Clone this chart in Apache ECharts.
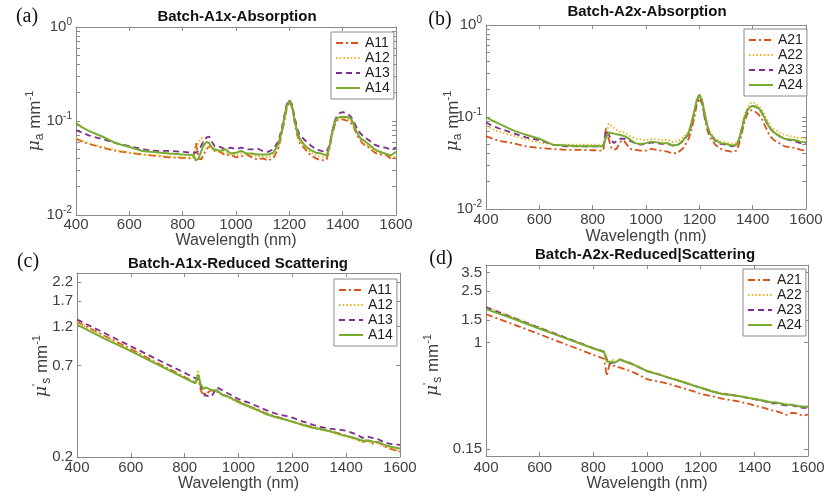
<!DOCTYPE html>
<html>
<head>
<meta charset="utf-8">
<script src="https://cdn.jsdelivr.net/npm/echarts@6/dist/echarts.min.js"></script>
<style>
  html, body { margin: 0; padding: 0; background: #fff; }
  #chart { width: 828px; height: 498px; }
</style>
</head>
<body>
<div id="chart"></div>
<script>
// ---- data ----
const wlAbs = [400,425,450,500,550,600,650,700,750,800,
  840,850,860,870,880,890,900,910,920,940,
  960,980,1000,1020,1040,1060,1080,1100,1120,1140,
  1160,1170,1180,1190,1200,1210,1220,1230,1240,1260,
  1280,1300,1320,1340,1350,1360,1370,1380,1390,1400,
  1410,1420,1430,1440,1450,1460,1470,1480,1500,1520,
  1540,1560,1580,1600];

const a11Abs = [0.065,0.060,0.057,0.052,0.048,0.046,0.044,0.0425,0.041,0.0405,
  0.040,0.058,0.040,0.039,0.045,0.050,0.054,0.052,0.048,0.047,
  0.043,0.044,0.041,0.042,0.044,0.041,0.039,0.040,0.038,0.040,
  0.052,0.070,0.095,0.135,0.160,0.140,0.095,0.070,0.058,0.050,
  0.043,0.040,0.038,0.039,0.050,0.070,0.090,0.102,0.104,0.104,
  0.102,0.100,0.096,0.088,0.075,0.066,0.060,0.056,0.052,0.046,
  0.044,0.044,0.040,0.040];
const a12Abs = [0.066,0.061,0.058,0.053,0.049,0.046,0.044,0.043,0.042,0.041,
  0.041,0.050,0.060,0.066,0.058,0.050,0.055,0.050,0.049,0.047,
  0.046,0.045,0.043,0.045,0.045,0.043,0.042,0.042,0.041,0.043,
  0.055,0.072,0.100,0.140,0.160,0.140,0.098,0.072,0.060,0.052,
  0.046,0.043,0.041,0.041,0.052,0.072,0.094,0.106,0.108,0.108,
  0.106,0.104,0.100,0.090,0.078,0.068,0.062,0.058,0.053,0.048,
  0.046,0.045,0.042,0.041];
const a13Abs = [0.080,0.075,0.070,0.064,0.058,0.054,0.050,0.048,0.048,0.047,
  0.046,0.046,0.048,0.055,0.062,0.067,0.068,0.060,0.054,0.053,
  0.050,0.052,0.050,0.052,0.050,0.050,0.051,0.048,0.047,0.050,
  0.062,0.080,0.110,0.150,0.168,0.150,0.110,0.082,0.070,0.062,
  0.055,0.050,0.048,0.047,0.055,0.075,0.100,0.115,0.122,0.124,
  0.122,0.118,0.112,0.100,0.088,0.078,0.072,0.068,0.062,0.056,
  0.053,0.052,0.050,0.052];
const a14Abs = [0.095,0.085,0.078,0.068,0.058,0.053,0.048,0.0465,0.045,0.044,
  0.0435,0.038,0.040,0.048,0.056,0.060,0.058,0.052,0.050,0.048,
  0.050,0.045,0.046,0.048,0.045,0.045,0.044,0.044,0.044,0.046,
  0.058,0.075,0.105,0.145,0.165,0.145,0.102,0.076,0.064,0.054,
  0.049,0.046,0.045,0.043,0.052,0.075,0.098,0.108,0.110,0.110,
  0.110,0.110,0.106,0.095,0.080,0.070,0.064,0.062,0.056,0.050,
  0.047,0.045,0.043,0.047];

const a21Abs = [0.062,0.058,0.055,0.052,0.048,0.046,0.045,0.044,0.044,0.0435,
  0.043,0.075,0.058,0.046,0.044,0.045,0.052,0.056,0.054,0.045,
  0.044,0.043,0.043,0.045,0.044,0.043,0.042,0.040,0.041,0.046,
  0.058,0.072,0.095,0.135,0.160,0.140,0.098,0.072,0.060,0.050,
  0.045,0.043,0.042,0.043,0.052,0.068,0.090,0.108,0.118,0.118,
  0.114,0.108,0.100,0.088,0.076,0.066,0.060,0.056,0.052,0.048,
  0.047,0.046,0.044,0.043];
const a22Abs = [0.080,0.074,0.069,0.063,0.057,0.053,0.050,0.050,0.050,0.050,
  0.050,0.062,0.085,0.080,0.076,0.072,0.070,0.068,0.068,0.062,
  0.058,0.057,0.056,0.058,0.057,0.056,0.057,0.053,0.055,0.060,
  0.070,0.086,0.112,0.150,0.172,0.150,0.110,0.082,0.068,0.058,
  0.054,0.053,0.051,0.052,0.060,0.080,0.105,0.125,0.140,0.145,
  0.140,0.134,0.125,0.112,0.098,0.088,0.078,0.074,0.068,0.064,
  0.062,0.060,0.059,0.058];
const a23Abs = [0.087,0.080,0.075,0.067,0.060,0.056,0.050,0.048,0.048,0.048,
  0.048,0.072,0.065,0.056,0.052,0.055,0.058,0.058,0.058,0.055,
  0.052,0.050,0.051,0.053,0.052,0.051,0.051,0.049,0.050,0.055,
  0.066,0.082,0.108,0.148,0.172,0.148,0.105,0.078,0.064,0.055,
  0.051,0.050,0.048,0.049,0.058,0.076,0.100,0.118,0.128,0.132,
  0.130,0.124,0.116,0.104,0.090,0.080,0.073,0.068,0.062,0.058,
  0.056,0.054,0.052,0.052];
const a24Abs = [0.100,0.091,0.084,0.072,0.064,0.058,0.050,0.049,0.048,0.048,
  0.048,0.060,0.068,0.067,0.066,0.065,0.064,0.063,0.062,0.057,
  0.052,0.051,0.052,0.054,0.053,0.052,0.052,0.049,0.050,0.056,
  0.067,0.085,0.112,0.152,0.176,0.152,0.110,0.080,0.066,0.056,
  0.052,0.051,0.049,0.050,0.058,0.076,0.100,0.118,0.128,0.132,
  0.130,0.126,0.118,0.104,0.090,0.080,0.072,0.068,0.062,0.058,
  0.057,0.056,0.054,0.053];

const wlSca = [400,500,600,700,800,840,850,860,870,880,
  890,900,920,940,960,1000,1040,1080,1100,1140,
  1180,1200,1240,1280,1300,1340,1380,1400,1440,1460,
  1480,1500,1520,1540,1560,1580,1600];

const a11Sca = [1.28,1.06,0.88,0.725,0.60,0.555,0.60,0.50,0.46,0.47,
  0.49,0.50,0.49,0.47,0.46,0.43,0.40,0.38,0.365,0.348,
  0.333,0.325,0.312,0.30,0.295,0.285,0.275,0.268,0.256,0.245,
  0.25,0.24,0.245,0.232,0.225,0.22,0.215];
const a12Sca = [1.27,1.05,0.87,0.72,0.595,0.55,0.66,0.52,0.48,0.48,
  0.50,0.50,0.49,0.465,0.455,0.42,0.395,0.372,0.36,0.343,
  0.33,0.324,0.308,0.296,0.292,0.283,0.27,0.265,0.253,0.245,
  0.25,0.24,0.243,0.232,0.228,0.222,0.218];
const a13Sca = [1.32,1.10,0.915,0.76,0.635,0.59,0.58,0.53,0.48,0.465,
  0.46,0.46,0.52,0.50,0.48,0.443,0.42,0.395,0.382,0.362,
  0.35,0.343,0.325,0.31,0.303,0.295,0.29,0.287,0.272,0.26,
  0.265,0.259,0.255,0.245,0.24,0.238,0.236];
const a14Sca = [1.23,1.02,0.855,0.71,0.59,0.55,0.62,0.54,0.51,0.52,
  0.51,0.50,0.50,0.47,0.46,0.425,0.40,0.375,0.362,0.345,
  0.332,0.325,0.31,0.298,0.295,0.285,0.272,0.267,0.257,0.25,
  0.252,0.247,0.245,0.237,0.232,0.228,0.225];

const a21Sca = [1.66,1.39,1.16,0.965,0.805,0.75,0.55,0.68,0.66,0.66,
  0.645,0.64,0.62,0.60,0.575,0.52,0.50,0.48,0.466,0.44,
  0.415,0.40,0.385,0.368,0.362,0.35,0.335,0.325,0.31,0.30,
  0.295,0.285,0.275,0.285,0.282,0.27,0.277];
const a22Sca = [1.90,1.58,1.31,1.09,0.91,0.855,0.76,0.72,0.74,0.71,
  0.72,0.745,0.72,0.695,0.665,0.605,0.575,0.54,0.525,0.495,
  0.465,0.452,0.425,0.405,0.40,0.388,0.375,0.368,0.355,0.345,
  0.345,0.338,0.332,0.33,0.325,0.32,0.32];
const a23Sca = [1.88,1.56,1.30,1.085,0.905,0.85,0.74,0.68,0.70,0.70,
  0.72,0.74,0.71,0.69,0.66,0.60,0.57,0.535,0.52,0.49,
  0.46,0.447,0.42,0.40,0.396,0.385,0.37,0.364,0.35,0.338,
  0.34,0.33,0.325,0.328,0.318,0.312,0.312];
const a24Sca = [1.82,1.54,1.28,1.075,0.90,0.845,0.72,0.70,0.71,0.70,
  0.72,0.74,0.71,0.685,0.66,0.60,0.57,0.535,0.52,0.49,
  0.46,0.447,0.42,0.40,0.396,0.385,0.372,0.366,0.352,0.345,
  0.343,0.337,0.33,0.33,0.323,0.318,0.318];

const namesA1 = ['A11', 'A12', 'A13', 'A14'];
const namesA2 = ['A21', 'A22', 'A23', 'A24'];

// tick values
const absTicks = [0.01,0.02,0.03,0.04,0.05,0.06,0.07,0.08,0.09,0.1,0.2,0.3,0.4,0.5,0.6,0.7,0.8,0.9,1];
const absLabels = [0.01, 0.1, 1];
const scaTicksC = [0.2, 0.7, 1.2, 1.7, 2.2];
const scaTicksD = [0.15, 1, 1.5, 2.5, 3.5];

// ---- styles ----
const colors = ['#D95319', '#EDB120', '#7E2F8E', '#77AC30'];
const dashes = [[7, 3, 2, 3], [1.5, 2.2], [6, 4], 'solid'];
const widths = [1.8, 1.8, 1.8, 2];
const FONT = 'Liberation Sans, Arial, sans-serif';
const AXC = '#8a8a8a';
const TXC = '#404040';

const panels = [
  { grid: { left: 76, top: 27, width: 320, height: 188 }, xs: wlAbs, names: namesA1,
    ys: [a11Abs, a12Abs, a13Abs, a14Abs], ymin: 0.01, ymax: 1, ticks: absTicks, labels: absLabels,
    pow: true, legend: [331, 32], xMargin: 2, nameGap: 18 },
  { grid: { left: 486, top: 25, width: 320, height: 184 }, xs: wlAbs, names: namesA2,
    ys: [a21Abs, a22Abs, a23Abs, a24Abs], ymin: 0.01, ymax: 1, ticks: absTicks, labels: absLabels,
    pow: true, legend: [744, 29], xMargin: 3, nameGap: 20 },
  { grid: { left: 77, top: 273, width: 323, height: 184 }, xs: wlSca, names: namesA1,
    ys: [a11Sca, a12Sca, a13Sca, a14Sca], ymin: 0.2, ymax: 2.5, ticks: scaTicksC, labels: scaTicksC,
    pow: false, legend: [334, 279], xMargin: 3, nameGap: 19 },
  { grid: { left: 486, top: 265, width: 322, height: 191 }, xs: wlSca, names: namesA2,
    ys: [a21Sca, a22Sca, a23Sca, a24Sca], ymin: 0.132, ymax: 4.0, ticks: scaTicksD, labels: scaTicksD,
    pow: false, legend: [743, 269], xMargin: 4, nameGap: 20 }
];

const xAxisBase = (i) => ({
  type: 'value', gridIndex: i, min: 400, max: 1600, interval: 200,
  axisLine: { show: true, onZero: false, lineStyle: { color: AXC } },
  axisTick: { inside: true, length: 4, lineStyle: { color: AXC } },
  splitLine: { show: false }
});
const yAxisBase = (p, i) => ({
  type: 'log', logBase: 10, gridIndex: i, min: p.ymin, max: p.ymax,
  axisLine: { show: true, onZero: false, lineStyle: { color: AXC } },
  axisTick: { inside: true, length: 4, customValues: p.ticks, lineStyle: { color: AXC } },
  splitLine: { show: false }, minorTick: { show: false }
});

const xAxes = [], yAxes = [], series = [], legends = [];
panels.forEach((p, i) => {
  xAxes.push(Object.assign(xAxisBase(i), {
    position: 'bottom',
    axisLabel: { margin: p.xMargin, fontSize: 15, color: TXC, fontFamily: FONT, formatter: (v) => String(v) },
    name: 'Wavelength (nm)', nameLocation: 'middle', nameGap: p.nameGap,
    nameTextStyle: { fontSize: 16, color: TXC, fontFamily: FONT }
  }));
  yAxes.push(Object.assign(yAxisBase(p, i), {
    position: 'left',
    axisLabel: {
      margin: 4, fontSize: 15, color: TXC, fontFamily: FONT, customValues: p.labels,
      formatter: p.pow ? (v) => '{b|10}{e|' + Math.round(Math.log10(v)) + '}' : (v) => String(v),
      rich: {
        b: { fontSize: 15, color: TXC, fontFamily: FONT },
        e: { fontSize: 10, color: TXC, fontFamily: FONT, padding: [0, 0, 9, 0] }
      }
    }
  }));
  p.names.forEach((name, k) => {
    series.push({
      type: 'line', name: name, xAxisIndex: i, yAxisIndex: i,
      data: p.xs.map((x, j) => [x, p.ys[k][j]]),
      symbol: 'none', showSymbol: false, animation: false,
      lineStyle: { color: colors[k], width: widths[k], type: dashes[k] },
      itemStyle: { color: colors[k] }
    });
  });
  legends.push({
    orient: 'vertical', left: p.legend[0], top: p.legend[1], data: p.names,
    itemWidth: 24, itemHeight: 10, itemGap: 1, padding: [4, 4, 4, 4],
    borderColor: AXC, borderWidth: 1, backgroundColor: '#fff',
    itemStyle: { opacity: 0 },
    textStyle: { fontSize: 14, color: '#222', fontFamily: FONT }
  });
});
// mirrored top / right axes (ticks only)
panels.forEach((p, i) => {
  xAxes.push(Object.assign(xAxisBase(i), { position: 'top', axisLabel: { show: false } }));
  yAxes.push(Object.assign(yAxisBase(p, i), { position: 'right', axisLabel: { show: false } }));
});

const txt = (x, y, text, font, extra) => ({
  type: 'text', x: x, y: y, silent: true,
  style: Object.assign({ text: text, fill: '#111', align: 'center', verticalAlign: 'middle' }, font, extra || {})
});
const serif = { fontFamily: 'Liberation Serif, DejaVu Serif, serif', fontSize: 20 };
const bold = { fontFamily: FONT, fontSize: 15, fontWeight: 'bold' };
const muRich = {
  m: { fontSize: 17, fontStyle: 'italic', fill: TXC, fontFamily: 'DejaVu Serif, serif' },
  s: { fontSize: 12, fill: TXC, fontFamily: FONT, padding: [9, 0, 0, 0] },
  p: { fontSize: 11, fill: TXC, fontFamily: FONT, padding: [0, 0, 10, 0] },
  t: { fontSize: 17, fill: TXC, fontFamily: FONT }
};
const yName = (x, y, sub) => Object.assign(
  txt(x, y, sub === 'a' ? '{m|μ}{s|a}{t| mm}{p|-1}' : "{m|μ}{p|'}{s|s}{t| mm}{p|-1}",
    { fontFamily: FONT, fontSize: 17 }, { rich: muRich, fill: TXC }),
  { rotation: Math.PI / 2 }
);

const graphics = [
  txt(27, 17, '(a)', serif), txt(440, 20, '(b)', serif),
  txt(28, 262, '(c)', serif), txt(441, 259, '(d)', serif),
  txt(237, 17, 'Batch-A1x-Absorption', bold),
  txt(647, 12, 'Batch-A2x-Absorption', bold),
  txt(238, 264, 'Batch-A1x-Reduced Scattering', bold),
  txt(645, 255, 'Batch-A2x-Reduced|Scattering', bold),
  yName(35, 121, 'a'), yName(453, 121, 'a'),
  yName(42, 366, 's'), yName(433, 365, 's')
];

const chart = echarts.init(document.getElementById('chart'), null, { renderer: 'canvas' });
chart.setOption({
  animation: false,
  backgroundColor: '#fff',
  grid: panels.map(p => p.grid),
  xAxis: xAxes,
  yAxis: yAxes,
  legend: legends,
  series: series,
  graphic: graphics
});
window.addEventListener('resize', () => chart.resize());
</script>
</body>
</html>
